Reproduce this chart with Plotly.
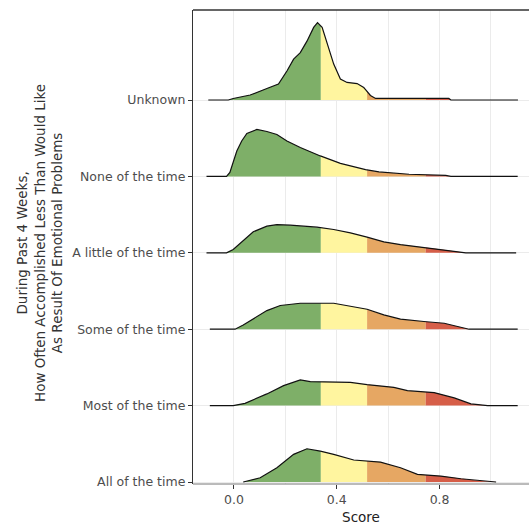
import numpy as np
import plotly.graph_objects as go

# ---- data ----
categories = ["All of the time", "Most of the time", "Some of the time",
              "A little of the time", "None of the time", "Unknown"]

x_all = [0.036, 0.102, 0.167, 0.232, 0.284, 0.336, 0.388, 0.466, 0.570, 0.648,
         0.714, 0.805, 0.883, 0.961, 1.02]
h_all = [0, 0.056, 0.187, 0.362, 0.435, 0.405, 0.362, 0.288, 0.261, 0.187,
         0.101, 0.078, 0.043, 0.013, 0]

x_most = [-0.094, -0.003, 0.043, 0.128, 0.193, 0.258, 0.297, 0.453, 0.518, 0.622,
          0.675, 0.779, 0.857, 0.922, 0.987, 1.104]
h_most = [0, 0, 0.030, 0.153, 0.261, 0.336, 0.314, 0.305, 0.275, 0.239,
          0.196, 0.170, 0.101, 0.022, 0, 0]

x_some = [-0.094, 0.004, 0.036, 0.089, 0.128, 0.180, 0.258, 0.388, 0.453, 0.518,
          0.583, 0.648, 0.739, 0.818, 0.870, 0.915, 1.104]
h_some = [0, 0, 0.056, 0.166, 0.244, 0.310, 0.340, 0.340, 0.305, 0.261,
          0.187, 0.131, 0.101, 0.078, 0.035, 0, 0]

x_little = [-0.107, -0.029, -0.003, 0.036, 0.075, 0.128, 0.167, 0.219, 0.323, 0.388,
            0.453, 0.518, 0.583, 0.648, 0.714, 0.779, 0.844, 0.902, 1.098]
h_little = [0, 0, 0.043, 0.153, 0.275, 0.349, 0.370, 0.362, 0.336, 0.305,
            0.261, 0.205, 0.144, 0.108, 0.082, 0.056, 0.030, 0, 0]

x_none = [-0.107, -0.029, -0.016, -0.003, 0.011, 0.030, 0.050, 0.089, 0.128, 0.167,
          0.206, 0.258, 0.336, 0.414, 0.453, 0.512, 0.564, 0.681, 0.824, 0.844, 1.104]
h_none = [0, 0, 0.052, 0.183, 0.333, 0.464, 0.562, 0.614, 0.588, 0.549,
          0.464, 0.379, 0.268, 0.17, 0.137, 0.088, 0.059, 0.028, 0.013, 0, 0]

x_unknown = [-0.10, -0.022, -0.003, 0.063, 0.128, 0.173, 0.206, 0.232, 0.258, 0.284,
             0.310, 0.325, 0.343, 0.362, 0.388, 0.414, 0.440, 0.479, 0.505, 0.512,
             0.531, 0.551, 0.836, 0.844, 1.105]
h_unknown = [0, 0, 0.02, 0.065, 0.15, 0.21, 0.38, 0.535, 0.62, 0.77,
             0.95, 1.013, 0.95, 0.75, 0.47, 0.275, 0.23, 0.215, 0.163, 0.137,
             0.059, 0.02, 0.02, 0, 0]

cutoffs = [0.338, 0.518, 0.746]
band_colors = ["#7EAF68", "#FFF59F", "#E6A763", "#D65E48"]

x_tickvals = [0.0, 0.4, 0.8]
x_ticktext = ["0.0", "0.4", "0.8"]

ridges = [(x_all, h_all), (x_most, h_most), (x_some, h_some),
          (x_little, h_little), (x_none, h_none), (x_unknown, h_unknown)]

fig = go.Figure()

edges = [-np.inf] + cutoffs + [np.inf]
for i in range(len(categories) - 1, -1, -1):
    xs = np.array(ridges[i][0], dtype=float)
    hs = np.array(ridges[i][1], dtype=float)
    base = float(i)
    for k in range(4):
        lo, hi = edges[k], edges[k + 1]
        a, b = max(lo, xs[0]), min(hi, xs[-1])
        if a >= b:
            continue
        inner = (xs > a) & (xs < b)
        px = np.concatenate([[a], xs[inner], [b]])
        ph = np.interp(px, xs, hs)
        polx = np.concatenate([[a], px, [b, a]])
        poly = np.concatenate([[base], base + ph, [base, base]])
        fig.add_trace(go.Scatter(x=polx, y=poly, mode="lines", fill="toself",
                                 fillcolor=band_colors[k], line=dict(width=0, color=band_colors[k]),
                                 hoverinfo="skip", showlegend=False))
    fig.add_trace(go.Scatter(x=xs, y=base + hs, mode="lines",
                             line=dict(color="#111111", width=1.2),
                             hoverinfo="skip", showlegend=False))

grid = "#EBEBEB"
fig.update_layout(
    template="none",
    width=529, height=525,
    margin=dict(l=193, r=0, t=10, b=41),
    paper_bgcolor="white", plot_bgcolor="white",
    font=dict(family="DejaVu Sans", size=12.5, color="#4D4D4D"),
    showlegend=False,
)
fig.update_xaxes(
    range=[-0.1595, 1.148], tickvals=x_tickvals, ticktext=x_ticktext,
    showgrid=True, gridcolor=grid, gridwidth=1,
    minor=dict(dtick=0.2, tick0=0, showgrid=True, gridcolor=grid, gridwidth=1, ticks=""),
    ticks="outside", ticklen=4, tickcolor="#333333", tickwidth=1,
    tickfont=dict(family="DejaVu Sans", size=12.5, color="#4D4D4D"),
    showline=False, zeroline=False, automargin=False,
    title=dict(text="Score", font=dict(family="DejaVu Sans", size=13.5, color="#222222"), standoff=6),
)
fig.update_yaxes(
    range=[-0.026, 6.178], tickvals=list(range(len(categories))), ticktext=categories,
    showgrid=True, gridcolor=grid, gridwidth=1,
    ticks="outside", ticklen=4, tickcolor="#333333", tickwidth=1,
    tickfont=dict(family="DejaVu Sans", size=12.5, color="#4D4D4D"),
    showline=True, linecolor="#333333", linewidth=1.3, zeroline=False, automargin=False,
)
# top and bottom panel lines
fig.add_shape(type="line", xref="paper", yref="paper", x0=0, x1=1, y0=1, y1=1,
              line=dict(color="#333333", width=1.3))
fig.add_shape(type="line", xref="paper", yref="paper", x0=0, x1=1, y0=0, y1=0,
              line=dict(color="#777777", width=1))

fig.add_annotation(
    text="During Past 4 Weeks,<br>How Often Accomplished Less Than Would Like<br>As Result Of Emotional Problems",
    xref="paper", yref="paper", x=0, y=0.5, xshift=-154, yshift=4,
    xanchor="center", yanchor="middle", textangle=-90, showarrow=False,
    font=dict(family="DejaVu Sans", size=13.5, color="#333333"),
)

fig.write_html("out.html")
